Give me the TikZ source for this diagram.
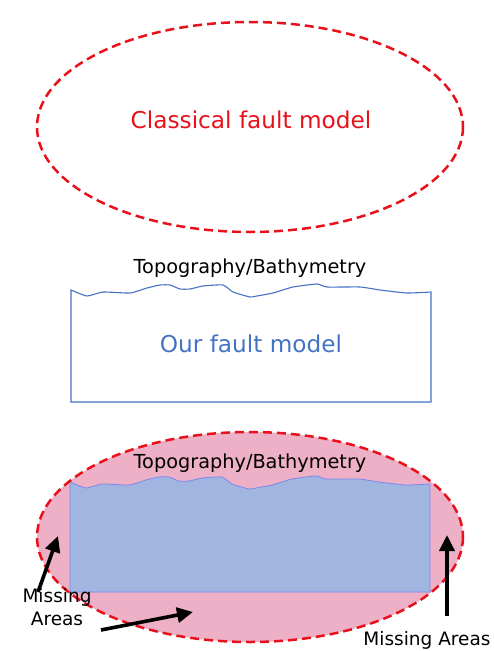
\documentclass[tikz,border=0pt]{standalone}
\usepackage{fontspec}
\setmainfont{DejaVu Sans}
\usetikzlibrary{arrows.meta}
\definecolor{faultred}{HTML}{E8101A}
\definecolor{faultblue}{HTML}{4472C4}
\definecolor{missingpink}{HTML}{EEB0C6}
\definecolor{modelfill}{HTML}{A1B5E1}
\definecolor{modeledge}{HTML}{7F86EA}
\tikzset{
  classical/.style={draw=faultred, line width=2.5pt, dash pattern=on 9pt off 5pt},
  labeltext/.style={inner sep=0pt, font=\fontsize{19.3}{22}\selectfont},
  bigtext/.style={inner sep=0pt, font=\fontsize{23.2}{26}\selectfont},
  misstext/.style={inner sep=0pt, align=center, font=\fontsize{18.5}{23}\selectfont},
  pointer/.style={line width=3.6pt, -{Triangle[length=16pt,width=15pt]}}
}
% surface profile of the topography/bathymetry (x absolute, y relative to the box top)
\def\surface{(71,0) (87,6) (103,2) (130,3) (147,-2) (160,-5) (170,-5) (180,-1) (190,-1) (203,-4) (223,-5) (233,2) (250,7) (257,6) (273,3) (293,-3) (317,-6) (327,-3) (360,-3) (380,0) (407,3) (431,2)}
\begin{document}
\begin{tikzpicture}[x=1pt,y=-1pt]
\useasboundingbox (0,0) rectangle (494,651);

% classical model: an ellipse
\draw[classical] (250,127) ellipse [x radius=213, y radius=105];
\node[bigtext, text=faultred] (classical) at (251,120) {Classical fault model};

% our model: box bounded above by the real surface
\begin{scope}[shift={(0,290)}]
  \draw[faultblue, line width=1.1pt] (71,112) -- plot[smooth, tension=0.3] coordinates {\surface} -- (431,112) -- cycle;
\end{scope}
\node[labeltext] (topo1) at (250,268) {Topography/Bathymetry};
\node[bigtext, text=faultblue] (ours) at (251,344) {Our fault model};

% comparison of both
\fill[missingpink] (250,537) ellipse [x radius=213, y radius=105];
\begin{scope}[shift={(-1,482)}]
  \fill[modelfill] (71,110) -- plot[smooth, tension=0.3] coordinates {\surface} -- (431,110) -- cycle;
  \draw[modeledge, line width=0.8pt] (71,110) -- plot[smooth, tension=0.3] coordinates {\surface} -- (431,110) -- cycle;
\end{scope}
\draw[classical] (250,537) ellipse [x radius=213, y radius=105];
\node[labeltext] (topo2) at (250,463) {Topography/Bathymetry};

% labels of the uncovered parts
\node[misstext] (missL) at (57,607) {Missing\\Areas};
\node[misstext] (missR) at (427,640) {Missing Areas};
\coordinate (tipL) at (58,536);
\coordinate (tipB) at (193,612);
\coordinate (tipR) at (447,535);
\coordinate (tailL) at (38,592);
\coordinate (tailB) at (101,630);
\coordinate (tailR) at (447,616);
\draw[pointer] (tailL) -- (tipL);
\draw[pointer] (tailB) -- (tipB);
\draw[pointer] (tailR) -- (tipR);
\end{tikzpicture}
\end{document}
